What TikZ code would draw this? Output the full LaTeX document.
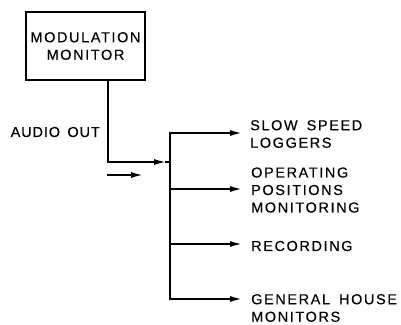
\documentclass[tikz,border=0pt]{standalone}
\usepackage{fontspec}
\setmainfont{Liberation Sans}[LetterSpace=11,WordSpace=1.6,FakeBold=0.3]
\newfontfamily\audiofont{Liberation Sans}[LetterSpace=6,WordSpace=1.5,FakeBold=0.3]
\usetikzlibrary{arrows.meta}
\begin{document}
\begin{tikzpicture}[x=1pt,y=-1pt,
  wire/.style={line width=1.7pt,line cap=rect},
  arr/.style={wire,-{Latex[length=12pt,width=6pt]}},
  lbl/.style={font=\fontsize{14.5}{17.5}\selectfont,inner sep=0pt,align=left,anchor=west},
  blockbox/.style={draw,line width=1.7pt,minimum width=119pt,minimum height=68pt,inner sep=0pt,align=center,font=\fontsize{14.5}{17.5}\selectfont}]
\useasboundingbox (0,0) rectangle (401,324);
\node[blockbox] (mm) at (85.5,46) {MODULATION\\MONITOR};
\node[lbl,anchor=east,font=\audiofont\fontsize{14.5}{17.5}\selectfont] (audio) at (100,132) {AUDIO OUT};
\coordinate (bend) at (108,162);
\coordinate (jin) at (166,162);
\coordinate (j) at (170,162);
\coordinate (btop) at (170,133);
\coordinate (bbot) at (170,299);
\coordinate (b2) at (170,189);
\coordinate (b3) at (170,244);
\coordinate (e1) at (242,133);
\coordinate (e2) at (242,189);
\coordinate (e3) at (242,244);
\coordinate (e4) at (242,299);
\coordinate (sa) at (108,175);
\coordinate (sb) at (143,175);
\node[lbl] (l1) at (250,134) {SLOW SPEED\\LOGGERS};
\node[lbl] (l2) at (251,190) {OPERATING\\POSITIONS\\MONITORING};
\node[lbl] (l3) at (251,246) {RECORDING};
\node[lbl] (l4) at (251,308) {GENERAL HOUSE\\MONITORS};
\draw[arr] (mm.south -| bend) -- (bend) -- (jin);
\draw[wire] (jin) -- (j);
\draw[wire] (btop) -- (bbot);
\draw[arr] (btop) -- (e1);
\draw[arr] (b2) -- (e2);
\draw[arr] (b3) -- (e3);
\draw[arr] (bbot) -- (e4);
\draw[arr] (sa) -- (sb);
\end{tikzpicture}
\end{document}
